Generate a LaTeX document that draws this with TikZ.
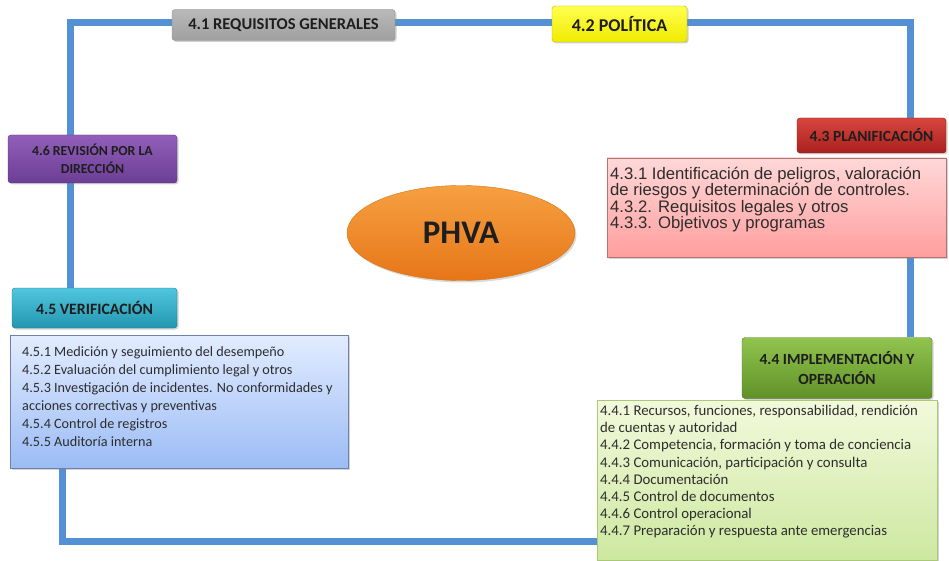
\documentclass[tikz,border=0pt]{standalone}
\usepackage{fontspec}
\setmainfont{Carlito}
\newfontfamily\arialf{Liberation Sans}
\usetikzlibrary{shadows,backgrounds,shapes.geometric}
\definecolor{frameblue}{RGB}{84,145,212}
\definecolor{txt}{RGB}{30,30,30}
\definecolor{dtxt}{RGB}{45,45,45}
\begin{document}
\begin{tikzpicture}[x=1pt,y=-1pt,
  hdr/.style={draw, rounded corners=3pt, align=center, text=txt, inner sep=0pt,
    drop shadow={shadow xshift=1.5pt,shadow yshift=-1.5pt,opacity=0.35}},
  detbox/.style={draw, inner sep=0pt,
    drop shadow={shadow xshift=1.5pt,shadow yshift=-1.5pt,opacity=0.35}},
  dettext/.style={anchor=north west, align=left, inner sep=0pt, text=dtxt},
  frameline/.style={line width=7pt, draw=frameblue, line join=miter}]
\useasboundingbox (0,0) rectangle (949,561);

% headers
\node[hdr, minimum width=223pt, minimum height=31pt, top color=gray!55, bottom color=gray!75, draw=gray!90,
  font=\bfseries\fontsize{16.5}{18}\selectfont] (n41) at (283.5,25) {4.1 REQUISITOS GENERALES};
\node[hdr, minimum width=135pt, minimum height=36pt, top color={rgb,255:red,255;green,255;blue,80}, bottom color={rgb,255:red,240;green,235;blue,0}, draw={rgb,255:red,185;green,180;blue,0},
  font=\bfseries\fontsize{18}{20}\selectfont] (n42) at (619.5,24) {4.2 POLÍTICA};
\node[hdr, minimum width=149pt, minimum height=35pt, top color={rgb,255:red,215;green,70;blue,62}, bottom color={rgb,255:red,170;green,32;blue,30}, draw={rgb,255:red,140;green,25;blue,25},
  font=\bfseries\fontsize{15.5}{17}\selectfont] (n43) at (871.5,135.5) {4.3 PLANIFICACIÓN};
\node[hdr, minimum width=169pt, minimum height=48pt, top color={rgb,255:red,145;green,95;blue,185}, bottom color={rgb,255:red,108;green,62;blue,148}, draw={rgb,255:red,90;green,50;blue,125},
  font=\bfseries\fontsize{13.8}{18.5}\selectfont] (n46) at (92.5,159) {4.6 REVISIÓN POR LA\\DIRECCIÓN};
\node[hdr, minimum width=165pt, minimum height=40pt, top color={rgb,255:red,80;green,198;blue,222}, bottom color={rgb,255:red,35;green,150;blue,176}, draw={rgb,255:red,30;green,120;blue,145},
  font=\bfseries\fontsize{15.8}{18}\selectfont] (n45) at (94.5,308) {4.5 VERIFICACIÓN};
\node[hdr, minimum width=190pt, minimum height=61pt, top color={rgb,255:red,145;green,196;blue,78}, bottom color={rgb,255:red,96;green,145;blue,40}, draw={rgb,255:red,80;green,122;blue,32},
  font=\bfseries\fontsize{15.5}{20}\selectfont] (n44) at (837,368) {4.4 IMPLEMENTACIÓN Y\\OPERACIÓN};

% detail boxes
\node[detbox, minimum width=339pt, minimum height=99pt, top color={rgb,255:red,255;green,216;blue,216}, bottom color={rgb,255:red,255;green,158;blue,158}, draw={rgb,255:red,180;green,115;blue,115}] (d43) at (776.5,207.5) {};
\node[dettext, font=\arialf\fontsize{16.7}{16.4}\selectfont] (d43t) at (610,167) {4.3.1 Identificación de peligros, valoración\\de riesgos y determinación de controles.\\4.3.2. Requisitos legales y otros\\4.3.3. Objetivos y programas};

\node[detbox, minimum width=338pt, minimum height=133pt, top color={rgb,255:red,226;green,236;blue,255}, bottom color={rgb,255:red,155;green,188;blue,245}, draw={rgb,255:red,112;green,128;blue,168}] (d45) at (179,401.5) {};
\node[dettext, font=\fontsize{14.2}{18}\selectfont] (d45t) at (22,346) {4.5.1 Medición y seguimiento del desempeño\\4.5.2 Evaluación del cumplimiento legal y otros\\4.5.3 Investigación de incidentes. No conformidades y\\acciones correctivas y preventivas\\4.5.4 Control de registros\\4.5.5 Auditoría interna};

\node[detbox, minimum width=340pt, minimum height=160pt, top color={rgb,255:red,242;green,249;blue,220}, bottom color={rgb,255:red,205;green,232;blue,160}, draw={rgb,255:red,170;green,200;blue,120}] (d44) at (767,480) {};
\node[dettext, font=\fontsize{14.8}{17.2}\selectfont] (d44t) at (600,405) {4.4.1 Recursos, funciones, responsabilidad, rendición\\de cuentas y autoridad\\4.4.2 Competencia, formación y toma de conciencia\\4.4.3 Comunicación, participación y consulta\\4.4.4 Documentación\\4.4.5 Control de documentos\\4.4.6 Control operacional\\4.4.7 Preparación y respuesta ante emergencias};

% central ellipse
\node[ellipse, draw={rgb,255:red,215;green,115;blue,20}, minimum width=228pt, minimum height=95pt, inner sep=0pt,
  top color={rgb,255:red,246;green,160;blue,66}, bottom color={rgb,255:red,230;green,118;blue,24},
  drop shadow={shadow xshift=1.5pt,shadow yshift=-2pt,opacity=0.3},
  text=txt, font=\bfseries\fontsize{33}{36}\selectfont] (phva) at (461,233) {PHVA};

% frame
\coordinate (tl) at (70,23);
\coordinate (tr) at (910,23);
\coordinate (bl) at (62,541);
\begin{scope}[on background layer]
\draw[frameline] (tl |- n46.north) -- (tl) -- (tr) -- (tr |- n43.north);
\draw[frameline] (tl |- n46.south) -- (tl |- n45.north);
\draw[frameline] (tr |- d43.south) -- (tr |- n44.north);
\draw[frameline] (d44.west |- bl) -- (bl) -- (bl |- d45.south);
\end{scope}
\end{tikzpicture}
\end{document}
